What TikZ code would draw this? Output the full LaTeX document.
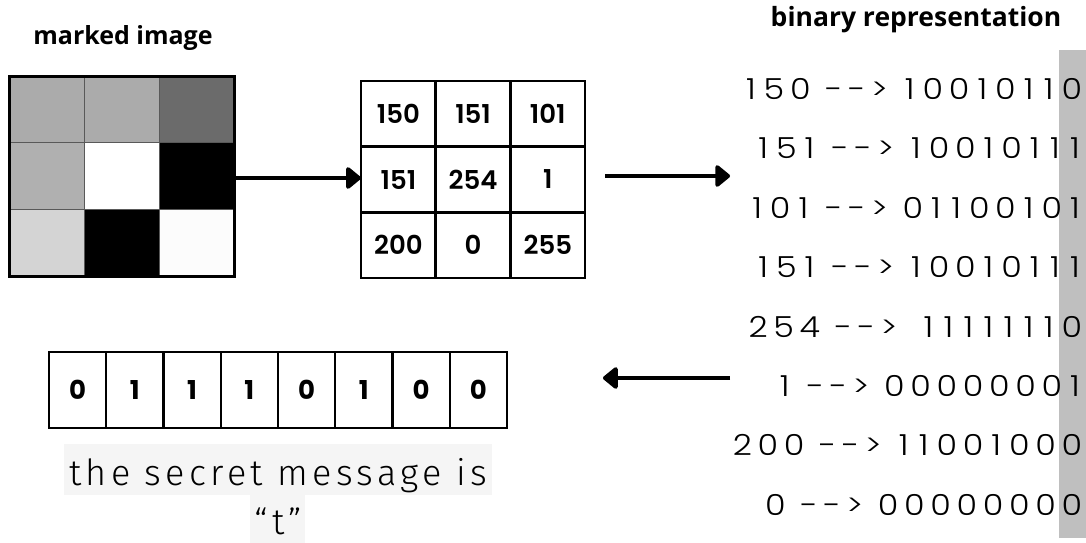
\documentclass[tikz,border=0pt]{standalone}
\usepackage{fontspec}
\setmainfont{Poppins}
\newfontfamily\headfont{Open Sans}
\newfontfamily\cellfont{Poppins}[UprightFont=* SemiBold]
\newfontfamily\bitfont{Poppins}[UprightFont=* Bold]
\newfontfamily\binfont{Poppins}[UprightFont=* Light, FakeStretch=1.15]
\newfontfamily\msgfont{Fira Sans}[UprightFont=* Light, LetterSpace=12]
% set a binary listing with even tracking; the narrow digit one gets extra room
\newdimen\bintrack \bintrack=5.7pt
\newdimen\binone \binone=2.3pt
\ExplSyntaxOn
\NewDocumentCommand \binstr { m }
  {
    \str_map_inline:nn {#1}
      {
        \str_if_eq:nnTF {##1} {1}
          { \kern\binone 1 \kern\binone \kern\bintrack }
          {
            \str_if_eq:nnTF {##1} {~}
              { ~ }
              { ##1 \kern\bintrack }
          }
      }
  }
\ExplSyntaxOff
\usetikzlibrary{arrows.meta}
\tikzset{
  heading/.style={font=\headfont\bfseries\fontsize{25}{29}\selectfont},
  pix/.style={draw=black!65, line width=1pt},
  frame/.style={draw, line width=3pt, inner sep=0pt},
  numcell/.style={draw, line width=2.6pt, minimum width=74.7pt, minimum height=65.7pt,
    inner sep=0pt, font=\cellfont\fontsize{26}{28}\selectfont},
  bitcell/.style={draw, line width=2.2pt, minimum width=57.25pt, minimum height=76pt,
    inner sep=0pt, font=\bitfont\fontsize{26}{28}\selectfont},
  binline/.style={anchor=east, inner sep=0pt, font=\binfont\fontsize{29}{31}\selectfont},
  bigarrow/.style={line width=4.5pt, -{Triangle[round, length=16pt, width=25pt]}},
}
\begin{document}
\begin{tikzpicture}[x=1pt, y=-1pt]
\useasboundingbox (0,0) rectangle (1086,543);

% headings
\node[heading] (hImg) at (123,38) {marked image};
\node[heading, font=\headfont\bfseries\fontsize{26.5}{30}\selectfont] (hBin) at (916,20) {binary representation};

% grey-level image, 3x3 pixels
\def\cw{75}\def\ch{66.7}
\foreach \c/\r/\g in {0/0/67,1/0/67,2/0/42,0/1/69,1/1/100,2/1/0,0/2/83,1/2/0,2/2/99}{
  \fill[pix, fill=white!\g!black]
    (9+\c*\cw,76+\r*\ch) rectangle ++(\cw,\ch);
}
\node[frame, minimum width=225pt, minimum height=200pt] (img) at (121.5,176) {};

% pixel values
\foreach \c/\r/\v in {0/0/150,1/0/151,2/0/101,0/1/151,1/1/254,2/1/1,0/2/200,1/2/0,2/2/255}{
  \node[numcell] (n\c\r) at (398.4+\c*74.7,113.8+\r*65.7) {\v};
}
\node[inner sep=0pt, minimum width=224pt, minimum height=197pt] (nums) at (473,179.5) {};

% binary representation with least significant bit column
\fill[black!25] (1059,50) rectangle (1086,538);
\foreach \i/\t in {0/{\binstr{150 --> 10010110}},1/{\binstr{151 --> 10010111}},
  2/{\binstr{101 --> 01100101}},3/{\binstr{151 --> 10010111}},
  4/{\binstr{254 -->}\ \ \binstr{11111110}},5/{\binstr{1 --> 00000001}},
  6/{\binstr{200 --> 11001000}},7/{\binstr{0 --> 00000000}}}{
  \node[binline] (b\i) at (1088,89+\i*59.4) {\t};
}

% extracted bits
\foreach \k/\v in {0/0,1/1,2/1,3/1,4/0,5/1,6/0,7/0}{
  \node[bitcell] (bit\k) at (77.6+\k*57.25,390) {\v};
}

% message
\fill[black!4] (64,444) rectangle (492,495);
\fill[black!4] (250,495) rectangle (305,543);
\node[font=\msgfont\fontsize{36}{40}\selectfont, inner sep=0pt] (msg1) at (278,476) {the secret message is};
\node[font=\msgfont\fontsize{36}{40}\selectfont, inner sep=0pt] (msg2) at (278,521) {“t”};

% arrows
\coordinate (a2s) at (605,176);
\coordinate (a2e) at (730,176);
\coordinate (a3s) at (730,378);
\coordinate (a3e) at (603,378);
\draw[bigarrow] (img.east |- 0,178) -- (nums.west |- 0,178);
\draw[bigarrow] (a2s) -- (a2e);
\draw[bigarrow] (a3s) -- (a3e);
\end{tikzpicture}
\end{document}
